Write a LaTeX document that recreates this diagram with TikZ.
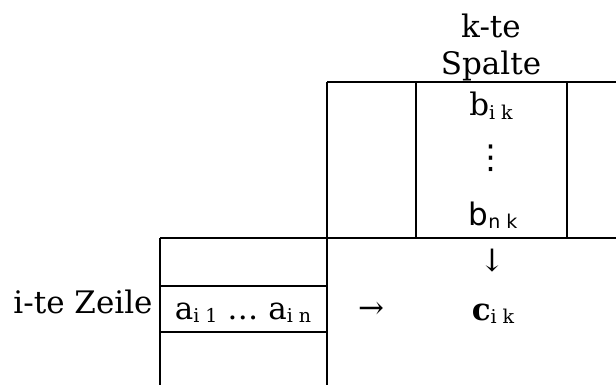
\documentclass[tikz,border=0pt]{standalone}
\usepackage{fontspec}
\setmainfont{DejaVu Serif}
\newfontfamily\dvsans{DejaVu Sans}
% lowered index in a smaller size
\newcommand\lowidx[1]{\raisebox{-0.12em}{\fontsize{19}{19}\selectfont #1}}
\begin{document}
\begin{tikzpicture}[x=1pt,y=-1pt,
  gridline/.style={line width=1.2pt, black},
  label/.style={inner sep=0pt, font=\fontsize{31}{37}\selectfont},
  entry/.style={inner sep=0pt, font=\fontsize{31}{36}\selectfont}]
\useasboundingbox (0,0) rectangle (616,385);
% grid corners
\coordinate (tl) at (327,82);
\coordinate (tr) at (616,82);
\coordinate (ml) at (160,238);
\coordinate (mr) at (616,238);
\coordinate (bl) at (160,385);
\coordinate (bm) at (327,385);
% table lines
\draw[gridline] (tl) -- (tr);
\draw[gridline] (ml) -- (mr);
\draw[gridline] (160,286) -- (327,286);
\draw[gridline] (160,332) -- (327,332);
\draw[gridline] (tl) -- (bm);
\draw[gridline] (416,82) -- (416,238);
\draw[gridline] (567,82) -- (567,238);
\draw[gridline] (ml) -- (bl);
% labels
\node[label, align=center, anchor=base] (col) at (491,75) {k-te\\Spalte};
\node[label, anchor=base] (row) at (83,313) {i-te Zeile};
% entries
\node[entry, anchor=base] (bik) at (491,116) {b\lowidx{i k}};
\node[inner sep=0pt, font=\dvsans\fontsize{33}{33}\selectfont] (dots) at (491,158) {⋮};
\node[entry, anchor=base, font=\dvsans\fontsize{31}{36}\selectfont] (bnk) at (493,225) {b\lowidx{n k}};
\node[entry, anchor=base] (arow) at (243,319) {a\lowidx{i 1} … a\lowidx{i n}};
\node[entry] (right) at (371,310) {→};
\node[entry] (down) at (492,261) {↓};
\node[entry, anchor=base] (cik) at (493,320) {\textbf{c}\lowidx{i k}};
\end{tikzpicture}
\end{document}
